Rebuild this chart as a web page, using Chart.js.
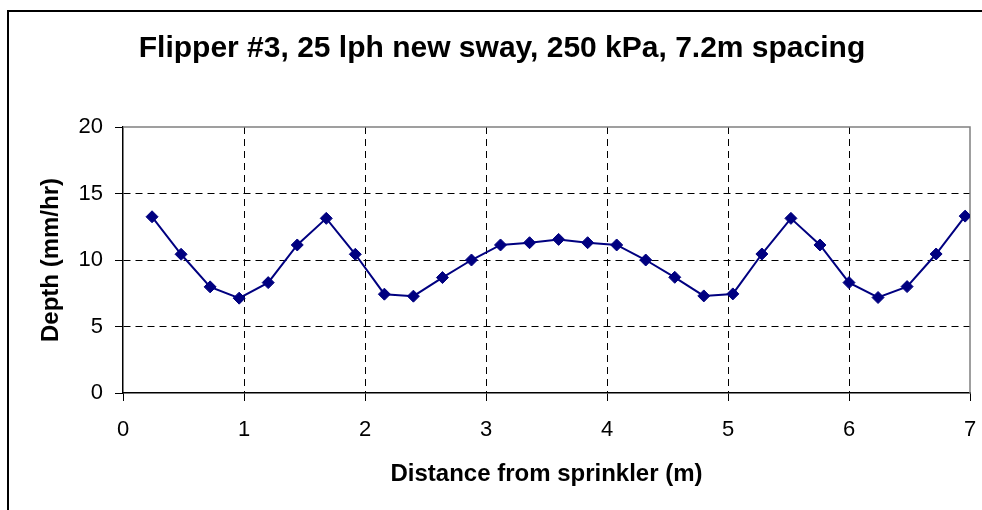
<!DOCTYPE html>
<html>
<head>
<meta charset="utf-8">
<script src="https://cdn.jsdelivr.net/npm/chart.js@4/dist/chart.umd.min.js"></script>
<style>
  body { margin: 0; background: #fff; overflow: hidden; }
  #wrap { position: relative; width: 982px; height: 510px; }
  #frame { position: absolute; left: 7px; top: 10px; width: 2000px; height: 2000px;
           border-left: 2px solid #000; border-top: 2px solid #000; }
  canvas { position: absolute; left: 0; top: 0; }
</style>
</head>
<body>
<div id="wrap">
  <div id="frame"></div>
  <canvas id="depthChart" width="982" height="510"></canvas>
</div>
<script>
// distance from sprinkler (m)
const distances = [0.24, 0.48, 0.72, 0.96, 1.20, 1.44, 1.68, 1.92, 2.16, 2.40,
                   2.64, 2.88, 3.12, 3.36, 3.60, 3.84, 4.08, 4.32, 4.56, 4.80,
                   5.04, 5.28, 5.52, 5.76, 6.00, 6.24, 6.48, 6.72, 6.96];
// depth (mm/hr)
const depths = [13.25, 10.43, 7.98, 7.13, 8.3, 11.13, 13.13, 10.43, 7.43, 7.28,
                8.68, 10.0, 11.13, 11.3, 11.55, 11.3, 11.13, 10.0, 8.7, 7.3,
                7.45, 10.45, 13.13, 11.13, 8.3, 7.18, 8.0, 10.45, 13.3];
const xTicks = [0, 1, 2, 3, 4, 5, 6, 7];
const yTicks = [0, 5, 10, 15, 20];

const FONT = '"Liberation Sans", Arial, sans-serif';

// grey top/right frame of the plot area
const plotFrame = {
    id: 'plotFrame',
    beforeDatasetsDraw(chart) {
        const {ctx, chartArea: a} = chart;
        ctx.save();
        ctx.strokeStyle = '#808080';
        ctx.lineWidth = 1.5;
        ctx.beginPath();
        ctx.moveTo(a.left, a.top);
        ctx.lineTo(a.right, a.top);
        ctx.lineTo(a.right, a.bottom);
        ctx.stroke();
        ctx.restore();
    }
};

const ctx = document.getElementById('depthChart').getContext('2d');

new Chart(ctx, {
    type: 'line',
    data: {
        datasets: [{
            label: 'Depth',
            data: distances.map((d, i) => ({x: d, y: depths[i]})),
            borderColor: '#000080',
            backgroundColor: '#000080',
            borderWidth: 2,
            pointStyle: 'rectRot',
            pointRadius: 6,
            pointBorderWidth: 1,
            tension: 0
        }]
    },
    options: {
        responsive: false,
        animation: false,
        layout: { padding: { left: 34, right: 12, top: 0, bottom: 0 } },
        plugins: {
            legend: { display: false },
            tooltip: { enabled: false },
            title: {
                display: true,
                text: 'Flipper #3, 25 lph new sway, 250 kPa, 7.2m spacing',
                color: '#000',
                font: { family: FONT, size: 30, weight: 'bold' },
                padding: { top: 31, bottom: 60 }
            }
        },
        scales: {
            x: {
                type: 'linear',
                min: 0,
                max: 7,
                afterBuildTicks: s => { s.ticks = xTicks.map(v => ({value: v})); },
                afterFit: s => { s.height = 117; s.paddingLeft = 6; s.paddingRight = 6; },
                ticks: { color: '#000', padding: 16, font: { family: FONT, size: 22 } },
                grid: {
                    color: c => (c.tick && (c.tick.value === 0 || c.tick.value === 7)) ? 'rgba(0,0,0,0)' : '#000',
                    lineWidth: 1,
                    tickLength: 8,
                    tickColor: '#000',
                    tickBorderDash: []
                },
                border: { display: true, color: '#000', width: 1.5, dash: [7, 5] },
                title: {
                    display: true,
                    text: 'Distance from sprinkler (m)',
                    color: '#000',
                    font: { family: FONT, size: 24, weight: 'bold' },
                    padding: { top: 0, bottom: 21 }
                }
            },
            y: {
                min: 0,
                max: 20,
                afterBuildTicks: s => { s.ticks = yTicks.map(v => ({value: v})); },
                afterFit: s => { s.width = 89; },
                ticks: { color: '#000', padding: 12, font: { family: FONT, size: 22 } },
                grid: {
                    color: c => (c.tick && (c.tick.value === 0 || c.tick.value === 20)) ? 'rgba(0,0,0,0)' : '#000',
                    lineWidth: 1,
                    tickLength: 8,
                    tickColor: '#000',
                    tickBorderDash: []
                },
                border: { display: true, color: '#000', width: 1.5, dash: [7, 5] },
                title: {
                    display: true,
                    text: 'Depth (mm/hr)',
                    color: '#000',
                    font: { family: FONT, size: 24, weight: 'bold' },
                    padding: { top: 3, bottom: 0 }
                }
            }
        }
    },
    plugins: [plotFrame]
});
</script>
</body>
</html>
